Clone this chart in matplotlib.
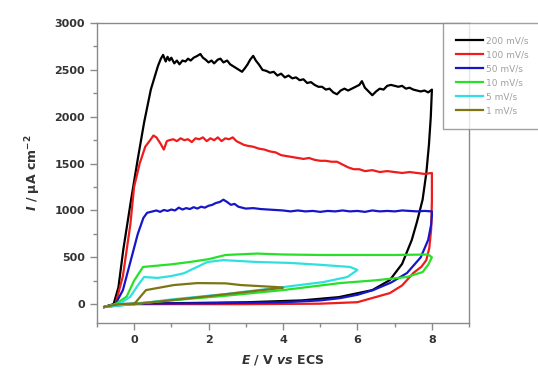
import matplotlib
matplotlib.use('Agg')
import matplotlib.pyplot as plt
from matplotlib.ticker import MultipleLocator

# scan rates / legend
labels = ['200 mV/s', '100 mV/s', '50 mV/s', '10 mV/s', '5 mV/s', '1 mV/s']
colors = ['#000000', '#ee1c1c', '#1616c8', '#27e027', '#2ee0e0', '#7d7414']

# 200 mV/s
e200 = [-0.8, -0.55, -0.42, -0.29, -0.08, 0.1, 0.27, 0.45, 0.64, 0.72, 0.78, 0.85, 0.9, 0.95,
        1.0, 1.08, 1.15, 1.22, 1.3, 1.38, 1.45, 1.52, 1.6, 1.7, 1.78, 1.85, 1.92, 2.0,
        2.08, 2.15, 2.25, 2.32, 2.4, 2.5, 2.58, 2.66, 2.74, 2.82, 2.9, 2.98, 3.05, 3.12,
        3.2, 3.27, 3.35, 3.45, 3.55, 3.65, 3.75, 3.85, 3.95, 4.05, 4.15, 4.25, 4.35, 4.45,
        4.55, 4.65, 4.75, 4.85, 4.95, 5.05, 5.15, 5.25, 5.35, 5.45, 5.55, 5.65, 5.75, 5.85,
        5.95, 6.05, 6.12, 6.2, 6.3, 6.4, 6.5, 6.6, 6.7, 6.8, 6.9, 7.0, 7.1, 7.2, 7.3, 7.4,
        7.5, 7.6, 7.7, 7.8, 7.9, 8.0,
        7.97, 7.92, 7.85, 7.75, 7.6, 7.46, 7.2, 6.87, 6.4, 5.5, 4.5, 3.0, 1.0, 0.0, -0.5, -0.8]
i200 = [-30, 0, 180, 580, 1115, 1550, 1940, 2290, 2540, 2620, 2660, 2590, 2640, 2600,
        2630, 2570, 2600, 2560, 2600, 2590, 2620, 2600, 2630, 2650, 2670, 2630, 2610, 2580,
        2600, 2570, 2610, 2620, 2580, 2600, 2560, 2540, 2520, 2500, 2480, 2520, 2560, 2610,
        2650, 2600, 2560, 2500, 2490, 2470, 2480, 2440, 2460, 2420, 2440, 2410, 2420, 2390,
        2400, 2360, 2370, 2340, 2320, 2320, 2290, 2300, 2260, 2240, 2280, 2300, 2280, 2300,
        2320, 2340, 2380, 2310, 2270, 2230, 2270, 2300, 2290, 2330, 2340, 2330, 2320, 2330,
        2300, 2310, 2290, 2280, 2270, 2280, 2260, 2290,
        2000, 1700, 1400, 1115, 880, 686, 430, 257, 150, 75, 40, 20, 10, 5, 0, -30]

# 100 mV/s
e100 = [-0.8, -0.5, -0.3, -0.1, 0.0, 0.15, 0.3, 0.45, 0.52, 0.6, 0.7, 0.8, 0.88, 0.95,
        1.05, 1.15, 1.25, 1.35, 1.45, 1.55, 1.65, 1.75, 1.85, 1.95, 2.05, 2.15, 2.25, 2.35,
        2.45, 2.55, 2.65, 2.75, 2.85, 2.95, 3.05, 3.2, 3.35, 3.5, 3.65, 3.8, 3.95, 4.1,
        4.25, 4.4, 4.55, 4.7, 4.85, 5.0, 5.15, 5.3, 5.45, 5.6, 5.75, 5.9, 6.05, 6.2, 6.4,
        6.6, 6.8, 7.0, 7.2, 7.4, 7.6, 7.8, 8.0,
        8.0, 7.98, 7.93, 7.85, 7.72, 7.5, 7.2, 6.87, 6.0, 5.0, 3.0, 1.0, 0.0, -0.5, -0.8]
i100 = [-30, 0, 300, 850, 1250, 1500, 1680, 1760, 1800, 1780, 1720, 1650, 1740, 1750,
        1760, 1740, 1770, 1750, 1760, 1730, 1770, 1760, 1780, 1740, 1770, 1750, 1780, 1740,
        1770, 1760, 1780, 1740, 1720, 1700, 1690, 1680, 1660, 1650, 1630, 1620, 1590, 1580,
        1570, 1560, 1550, 1560, 1540, 1530, 1530, 1520, 1520, 1490, 1460, 1440, 1440, 1420, 1430,
        1410, 1420, 1410, 1400, 1410, 1400, 1390, 1400,
        1100, 800, 600, 470, 400, 332, 200, 118, 21, 5, 0, 0, 0, 0, -30]

# 50 mV/s
e50 = [-0.8, -0.5, -0.3, -0.1, 0.1, 0.25, 0.35, 0.5, 0.6, 0.7, 0.8, 0.9, 1.0, 1.1, 1.2,
       1.3, 1.4, 1.5, 1.6, 1.7, 1.8, 1.9, 2.0, 2.1, 2.2, 2.3, 2.4, 2.5, 2.6, 2.7, 2.8, 2.9,
       3.0, 3.2, 3.4, 3.6, 3.8, 4.0, 4.2, 4.4, 4.6, 4.8, 5.0, 5.2, 5.4, 5.6, 5.8, 6.0, 6.2,
       6.4, 6.6, 6.8, 7.0, 7.2, 7.4, 7.6, 7.8, 8.0,
       8.0, 7.98, 7.9, 7.7, 7.33, 6.9, 6.42, 6.0, 5.53, 5.0, 4.0, 2.0, 0.0, -0.8]
i50 = [-30, 0, 150, 450, 750, 920, 975, 990, 1000, 985, 1005, 995, 1010, 1000, 1030,
       1010, 1025, 1015, 1035, 1020, 1040, 1030, 1050, 1060, 1080, 1090, 1115, 1090, 1060,
       1070, 1040, 1030, 1020, 1025, 1015, 1010, 1005, 1000, 990, 1000, 990, 995, 985, 995,
       990, 1000, 990, 995, 985, 1000, 990, 995, 990, 1000, 995, 990, 995, 990,
       950, 850, 686, 500, 332, 230, 150, 100, 64, 40, 20, 10, 5, -30]

# 10 mV/s
e10 = [-0.8, -0.5, -0.2, 0.0, 0.24, 0.6, 1.0, 1.5, 2.0, 2.46, 3.3, 4.0, 5.0, 6.0, 7.0, 7.9,
       8.0, 7.9, 7.75, 7.33, 6.5, 5.53, 4.0, 2.46, 1.0, -0.2, -0.8]
i10 = [-30, 0, 80, 250, 397, 410, 425, 450, 480, 525, 540, 530, 525, 525, 525, 530,
       500, 420, 343, 290, 255, 225, 150, 90, 40, 0, -30]

# 5 mV/s
e5 = [-0.8, -0.4, -0.1, 0.1, 0.27, 0.63, 1.0, 1.34, 1.97, 2.4, 3.3, 4.2, 5.0, 5.8, 6.0,
      5.73, 5.08, 4.0, 2.5, 1.0, 0.0, -0.8]
i5 = [-30, 0, 80, 200, 290, 280, 300, 330, 450, 470, 450, 440, 420, 397, 365,
      290, 235, 182, 110, 50, 0, -30]

# 1 mV/s
e1 = [-0.8, -0.4, 0.0, 0.32, 1.07, 1.7, 2.46, 2.86, 3.85, 4.0, 2.0, 0.0]
i1 = [-30, 0, 0, 150, 204, 225, 222, 204, 182, 175, 85, 0]

E = [e200, e100, e50, e10, e5, e1]
I = [i200, i100, i50, i10, i5, i1]

plt.rcParams['font.family'] = 'DejaVu Sans'
plt.rcParams['mathtext.fontset'] = 'dejavusans'

fig = plt.figure(figsize=(5.38, 3.72), dpi=100)
ax = fig.add_axes([0.180, 0.132, 0.692, 0.806])

for x, y, c, lab in zip(E, I, colors, labels):
    ax.plot(x, y, color=c, lw=1.6, label=lab)

ax.set_xlim(-1, 9)
ax.set_ylim(-200, 3000)
ax.xaxis.set_major_locator(MultipleLocator(2))
ax.xaxis.set_minor_locator(MultipleLocator(1))
ax.yaxis.set_major_locator(MultipleLocator(500))
ax.yaxis.set_minor_locator(MultipleLocator(250))

for s in ax.spines.values():
    s.set_color('#8a8a8a')
    s.set_linewidth(1.0)
ax.tick_params(which='major', length=5, width=1, color='#8a8a8a',
               labelsize=8, labelcolor='#333333')
ax.tick_params(which='minor', length=3, width=1, color='#8a8a8a')
for t in ax.get_xticklabels() + ax.get_yticklabels():
    t.set_fontweight('bold')

ax.set_xlabel(r'$\mathbfit{E}$ / V $\mathbfit{vs}$ ECS', fontsize=9,
              fontweight='bold', color='#333333', labelpad=6)
ax.set_ylabel(r'$\mathbfit{I}$ / µA cm$^{\mathbf{-2}}$', fontsize=9,
              fontweight='bold', color='#333333', labelpad=8)

leg = fig.legend(loc='upper left', bbox_to_anchor=(0.823, 0.938), borderaxespad=0,
                 fontsize=6.5, handlelength=3.0, handletextpad=0.3, labelspacing=0.55,
                 fancybox=False, borderpad=1.5)
leg.get_frame().set_edgecolor('#8a8a8a')
leg.get_frame().set_linewidth(1.0)
for t in leg.get_texts():
    t.set_color('#a0a0a0')

fig.savefig('out.png', dpi=100)
